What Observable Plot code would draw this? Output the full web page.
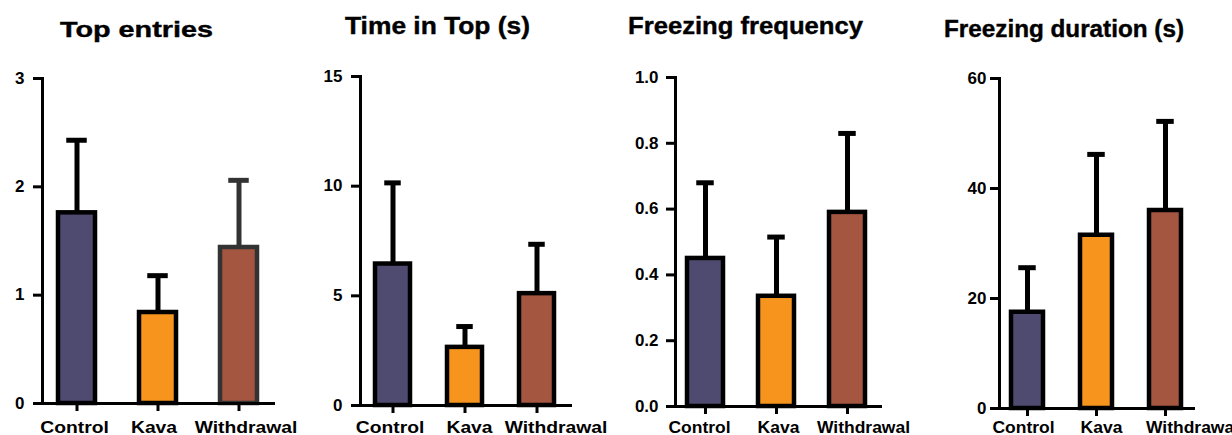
<!DOCTYPE html>
<html><head><meta charset="utf-8">
<script src="https://cdn.jsdelivr.net/npm/d3@7"></script>
<script src="https://cdn.jsdelivr.net/npm/@observablehq/plot@0.6"></script>
<style>
body{margin:0;background:#fff;}
#wrap{position:relative;width:1232px;height:435px;overflow:hidden;font-family:"Liberation Sans",Arial,sans-serif;}
.panel{position:absolute;top:0;}
#titles{position:absolute;left:0;top:0;}
</style></head><body><div id="wrap"></div>
<script>
// ---- data ----
const groups = ["Control", "Kava", "Withdrawal"];
const titles = ["Top entries", "Time in Top (s)", "Freezing frequency", "Freezing duration (s)"];

const topEntriesMean = [1.76, 0.84, 1.44];
const topEntriesSem  = [0.67, 0.34, 0.62];
const timeInTopMean  = [6.45, 2.65, 5.10];
const timeInTopSem   = [3.70, 0.95, 2.25];
const freezeFreqMean = [0.45, 0.335, 0.59];
const freezeFreqSem  = [0.23, 0.18, 0.24];
const freezeDurMean  = [17.5, 31.5, 36.0];
const freezeDurSem   = [8.1, 14.7, 16.2];

const topEntriesTicks = [0, 1, 2, 3];
const timeInTopTicks  = [0, 5, 10, 15];
const freezeFreqTicks = [0, 0.2, 0.4, 0.6, 0.8, 1.0];
const freezeDurTicks  = [0, 20, 40, 60];

// ---- styles / layout ----
const fills = {Control: "#4f4a70", Kava: "#f7941d", Withdrawal: "#a55641"};

const panels = [
  {mean: topEntriesMean, sem: topEntriesSem, ticks: topEntriesTicks, dom: [0, 3], fmt: d3.format("d"),
   left: 0, w: 300, ml: 42, mr: 25, mt: 78, mb: 32, xr: [35.25, 279.75], inner: 37.5, cap: 21, tp: 9,
   xpad: 10, xs: 1.17, ldx: [-2.5, -4, 7],
   strokes: {Control: "#000", Kava: "#000", Withdrawal: "#333"}},
  {mean: timeInTopMean, sem: timeInTopSem, ticks: timeInTopTicks, dom: [0, 15], fmt: d3.format("d"),
   left: 300, w: 310, ml: 60, mr: 38, mt: 76, mb: 30, xr: [55.75, 273.25], inner: 35.5, cap: 17, tp: 9,
   xpad: 8, xs: 1.17, ldx: [-3, 4.5, 19]},
  {mean: freezeFreqMean, sem: freezeFreqSem, ticks: freezeFreqTicks, dom: [0, 1], fmt: d3.format(".1f"),
   left: 610, w: 300, ml: 65, mr: 28, mt: 77, mb: 29, xr: [59.5, 272.5], inner: 35.5, cap: 17, tp: 8,
   xpad: 7, xs: 1.06, ldx: [-6, 2, 16]},
  {mean: freezeDurMean, sem: freezeDurSem, ticks: freezeDurTicks, dom: [0, 60], fmt: d3.format("d"),
   left: 920, w: 312, ml: 79, mr: 37, mt: 78, mb: 27, xr: [72.5, 279.5], inner: 31.5, cap: 17, tp: 4,
   xpad: 5, xs: 1.06, ldx: [-4, 5, 27]}
];

function stretch(svg, sel, s, dxs) {
  svg.querySelectorAll(sel).forEach((t, i) => {
    const x = +(t.getAttribute("x") || 0);
    const tr = t.getAttribute("transform") || "";
    const dx = dxs ? dxs[i] : 0;
    t.setAttribute("transform", `${tr} translate(${dx + x},0) scale(${s},1) translate(${-x},0)`);
  });
}

const wrap = document.getElementById("wrap");

panels.forEach(cfg => {
  const data = groups.map((g, i) => ({g, m: cfg.mean[i], hi: cfg.mean[i] + cfg.sem[i]}));
  const step = (cfg.xr[1] - cfg.xr[0]) / groups.length;
  const p = 1 - cfg.inner / step;
  const strokeOf = d => (cfg.strokes ? cfg.strokes[d.g] : "#000");
  const inset = (cfg.inner - cfg.cap) / 2;
  const svg = Plot.plot({
    width: cfg.w, height: 435,
    marginLeft: cfg.ml, marginRight: cfg.mr, marginTop: cfg.mt, marginBottom: cfg.mb,
    style: {fontFamily: "'Liberation Sans', Arial, sans-serif", fontWeight: "bold", fontSize: "16.5px",
            color: "#000", background: "transparent", overflow: "visible"},
    x: {domain: groups, range: cfg.xr, paddingInner: p, paddingOuter: p / 2, label: null},
    y: {domain: cfg.dom, label: null},
    color: {type: "identity"},
    marks: [
      Plot.ruleX(data, {x: "g", y1: "m", y2: "hi", stroke: strokeOf, strokeWidth: 5}),
      Plot.tickY(data, {x: "g", y: "hi", stroke: strokeOf, strokeWidth: 5, insetLeft: inset, insetRight: inset}),
      Plot.barY(data, {x: "g", y: "m", fill: d => fills[d.g], stroke: strokeOf, strokeWidth: 4.5}),
      Plot.axisY({ticks: cfg.ticks, tickFormat: cfg.fmt, tickSize: 9, strokeWidth: 3, tickPadding: cfg.tp,
                  fontSize: 16.5, label: null}),
      Plot.axisX({tickSize: 8, strokeWidth: 3, tickPadding: cfg.xpad, fontSize: 16.5, label: null}),
      Plot.frame({anchor: "left", strokeWidth: 3}),
      Plot.ruleY([0], {strokeWidth: 3})
    ]
  });
  svg.classList.add("panel");
  svg.style.left = cfg.left + "px";
  stretch(svg, 'g[aria-label="x-axis tick label"] text', cfg.xs, cfg.ldx);
  stretch(svg, 'g[aria-label="y-axis tick label"] text', 1.03);
  wrap.appendChild(svg);
});

// titles (overlay of real text)
const tpos = [
  {x: 60, y: 37, len: 153, fs: 22.5},
  {x: 345, y: 34, len: 185, fs: 24},
  {x: 628, y: 34, len: 235, fs: 24},
  {x: 944, y: 37, len: 240, fs: 23}
];
const ts = d3.select(wrap).append("svg").attr("id", "titles").attr("width", 1232).attr("height", 435)
  .style("pointer-events", "none");
ts.selectAll("text").data(titles).join("text")
  .attr("x", (d, i) => tpos[i].x).attr("y", (d, i) => tpos[i].y)
  .attr("textLength", (d, i) => tpos[i].len).attr("lengthAdjust", "spacingAndGlyphs")
  .attr("font-family", "'Liberation Sans', Arial, sans-serif").attr("font-weight", "bold")
  .attr("font-size", (d, i) => tpos[i].fs).attr("fill", "#000")
  .attr("stroke", "#000").attr("stroke-width", 0.4)
  .text(d => d);
</script></body></html>
